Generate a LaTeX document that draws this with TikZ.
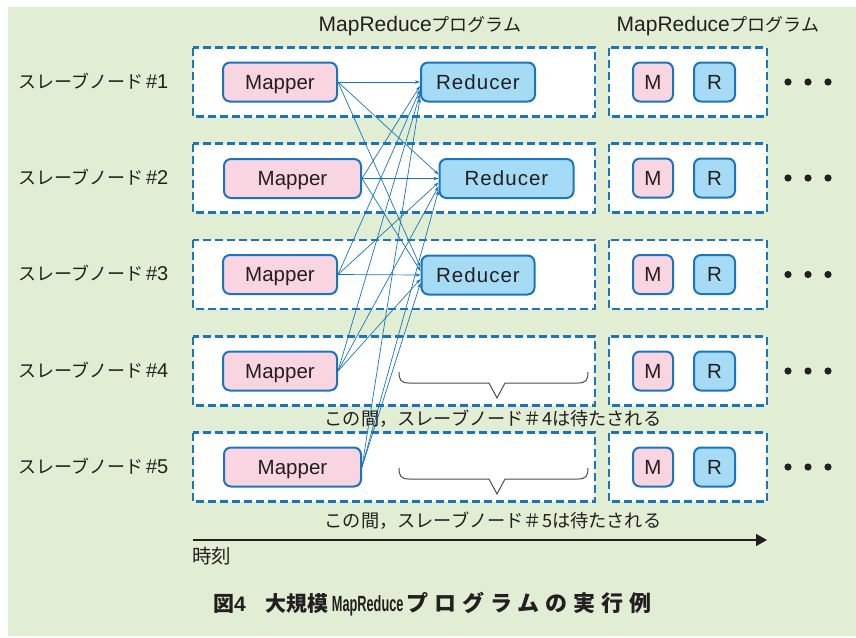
\documentclass[tikz,border=0pt]{standalone}
\usepackage{fontspec}
\setmainfont{Liberation Sans}
\newfontfamily\cjk{Noto Sans CJK JP}
\newfontfamily\cjkw[LetterSpace=27]{Noto Sans CJK JP}
\newfontfamily\latc[FakeStretch=0.58]{Liberation Sans}
\usetikzlibrary{arrows.meta}
\definecolor{bg}{HTML}{E2EED4}
\definecolor{dblue}{HTML}{1B75BC}
\definecolor{pinkf}{HTML}{F9D4E1}
\definecolor{bluef}{HTML}{A6DBF5}
\definecolor{txt}{HTML}{231F20}
\tikzset{
  rowbox/.style={draw=dblue, fill=white, line width=2.2pt, dash pattern=on 8pt off 4pt},
  proc/.style={draw=dblue, line width=2pt, rounded corners=7pt, minimum height=39pt, inner sep=0pt, text height=14.7pt, text depth=0pt, text=txt, font=\fontsize{20.5}{22}\selectfont},
  mapper/.style={proc, fill=pinkf},
  reducer/.style={proc, fill=bluef},
  link/.style={draw=dblue, line width=0.7pt, -{Stealth[length=5pt,width=3.6pt]}},
  lbl/.style={text=txt, font=\fontsize{18}{20}\selectfont, inner sep=0pt},
  waitlbl/.style={text=txt, font=\fontsize{18.2}{20}\cjk, inner sep=0pt},
  brace/.style={draw=txt!80, line width=1pt},
  dot/.style={fill=txt},
}
\begin{document}
\begin{tikzpicture}[x=1pt,y=-1pt]
\useasboundingbox (0,0) rectangle (856,637);
\fill[white] (0,0) rectangle (856,637);
\fill[bg] (8,7) rectangle (856,636);

% top labels
\node[lbl] (top1) at (420,26) {\fontsize{21}{22}\selectfont MapReduce\fontsize{18}{20}\cjk プログラム};
\node[lbl] (top2) at (718,26) {\fontsize{21}{22}\selectfont MapReduce\fontsize{18}{20}\cjk プログラム};

% rows
\foreach \i/\y in {1/82,2/178,3/274.5,4/371,5/467} {
  \draw[rowbox] (193,\y-34.5) rectangle (595,\y+34.5);
  \draw[rowbox] (609,\y-34.5) rectangle (767,\y+34.5);
  \node[lbl, anchor=west] (S\i) at (18,\y-1) {{\cjk スレーブノード}\kern3pt{\fontsize{20}{22}\selectfont\#\i}};
  \node[mapper, minimum width=40pt] (m\i) at (653,\y) {M};
  \node[reducer, minimum width=41pt] (r\i) at (714.5,\y) {R};
  \fill[dot] (788,\y) circle[radius=3.6pt];
  \fill[dot] (808,\y) circle[radius=3.6pt];
  \fill[dot] (828,\y) circle[radius=3.6pt];
}

% mappers
\node[mapper, minimum width=114pt] (M1) at (280,82) {Mapper};
\node[mapper, minimum width=137pt] (M2) at (292.5,178.5) {Mapper};
\node[mapper, minimum width=114pt] (M3) at (280,274.5) {Mapper};
\node[mapper, minimum width=114pt] (M4) at (280,371) {Mapper};
\node[mapper, minimum width=137pt] (M5) at (292.5,467) {Mapper};

% reducers
\node[reducer, minimum width=114pt] (R1) at (478,82) {\addfontfeature{LetterSpace=5}Reducer};
\node[reducer, minimum width=134pt] (R2) at (506.5,178.5) {\addfontfeature{LetterSpace=5}Reducer};
\node[reducer, minimum width=113pt] (R3) at (478,275) {\addfontfeature{LetterSpace=5}Reducer};

% shuffle links
\foreach \k in {1,...,5} {
  \foreach \j in {1,2,3} {
    \draw[link] (M\k.east) -- ([yshift={(\j-\k)*4pt}]R\j.west);
  }
}

% braces
\draw[brace] (399,372) .. controls (399,380) and (401,383) .. (409,383) -- (489,383) -- (497,398) -- (505,383) -- (578,383) .. controls (586,383) and (588,380) .. (588,372);
\draw[brace] (399,468) .. controls (399,476) and (401,479) .. (409,479) -- (489,479) -- (497,494) -- (505,479) -- (578,479) .. controls (586,479) and (588,476) .. (588,468);
\node[waitlbl] (w4) at (493,419) {この間，スレーブノード＃4は待たされる};
\node[waitlbl] (w5) at (493,521) {この間，スレーブノード＃5は待たされる};

% time axis
\coordinate (t0) at (193,540);
\coordinate (t1) at (767,540);
\draw[draw=txt, line width=1.5pt, -{Triangle[length=11pt,width=12pt]}] (t0) -- (t1);
\node[lbl, anchor=west] (time) at (192,556) {\fontsize{19.5}{22}\cjk 時刻};

% caption
\node[text=txt, font=\fontsize{21}{24}\selectfont\bfseries, inner sep=0pt, anchor=west] (cap) at (213,604) {{\cjk 図}4\hspace{20pt}{\cjk 大規模}\kern3pt{\fontsize{22}{24}\latc MapReduce}\kern3pt{\fontsize{22}{24}\cjkw プログラムの実行例}};
\end{tikzpicture}
\end{document}
